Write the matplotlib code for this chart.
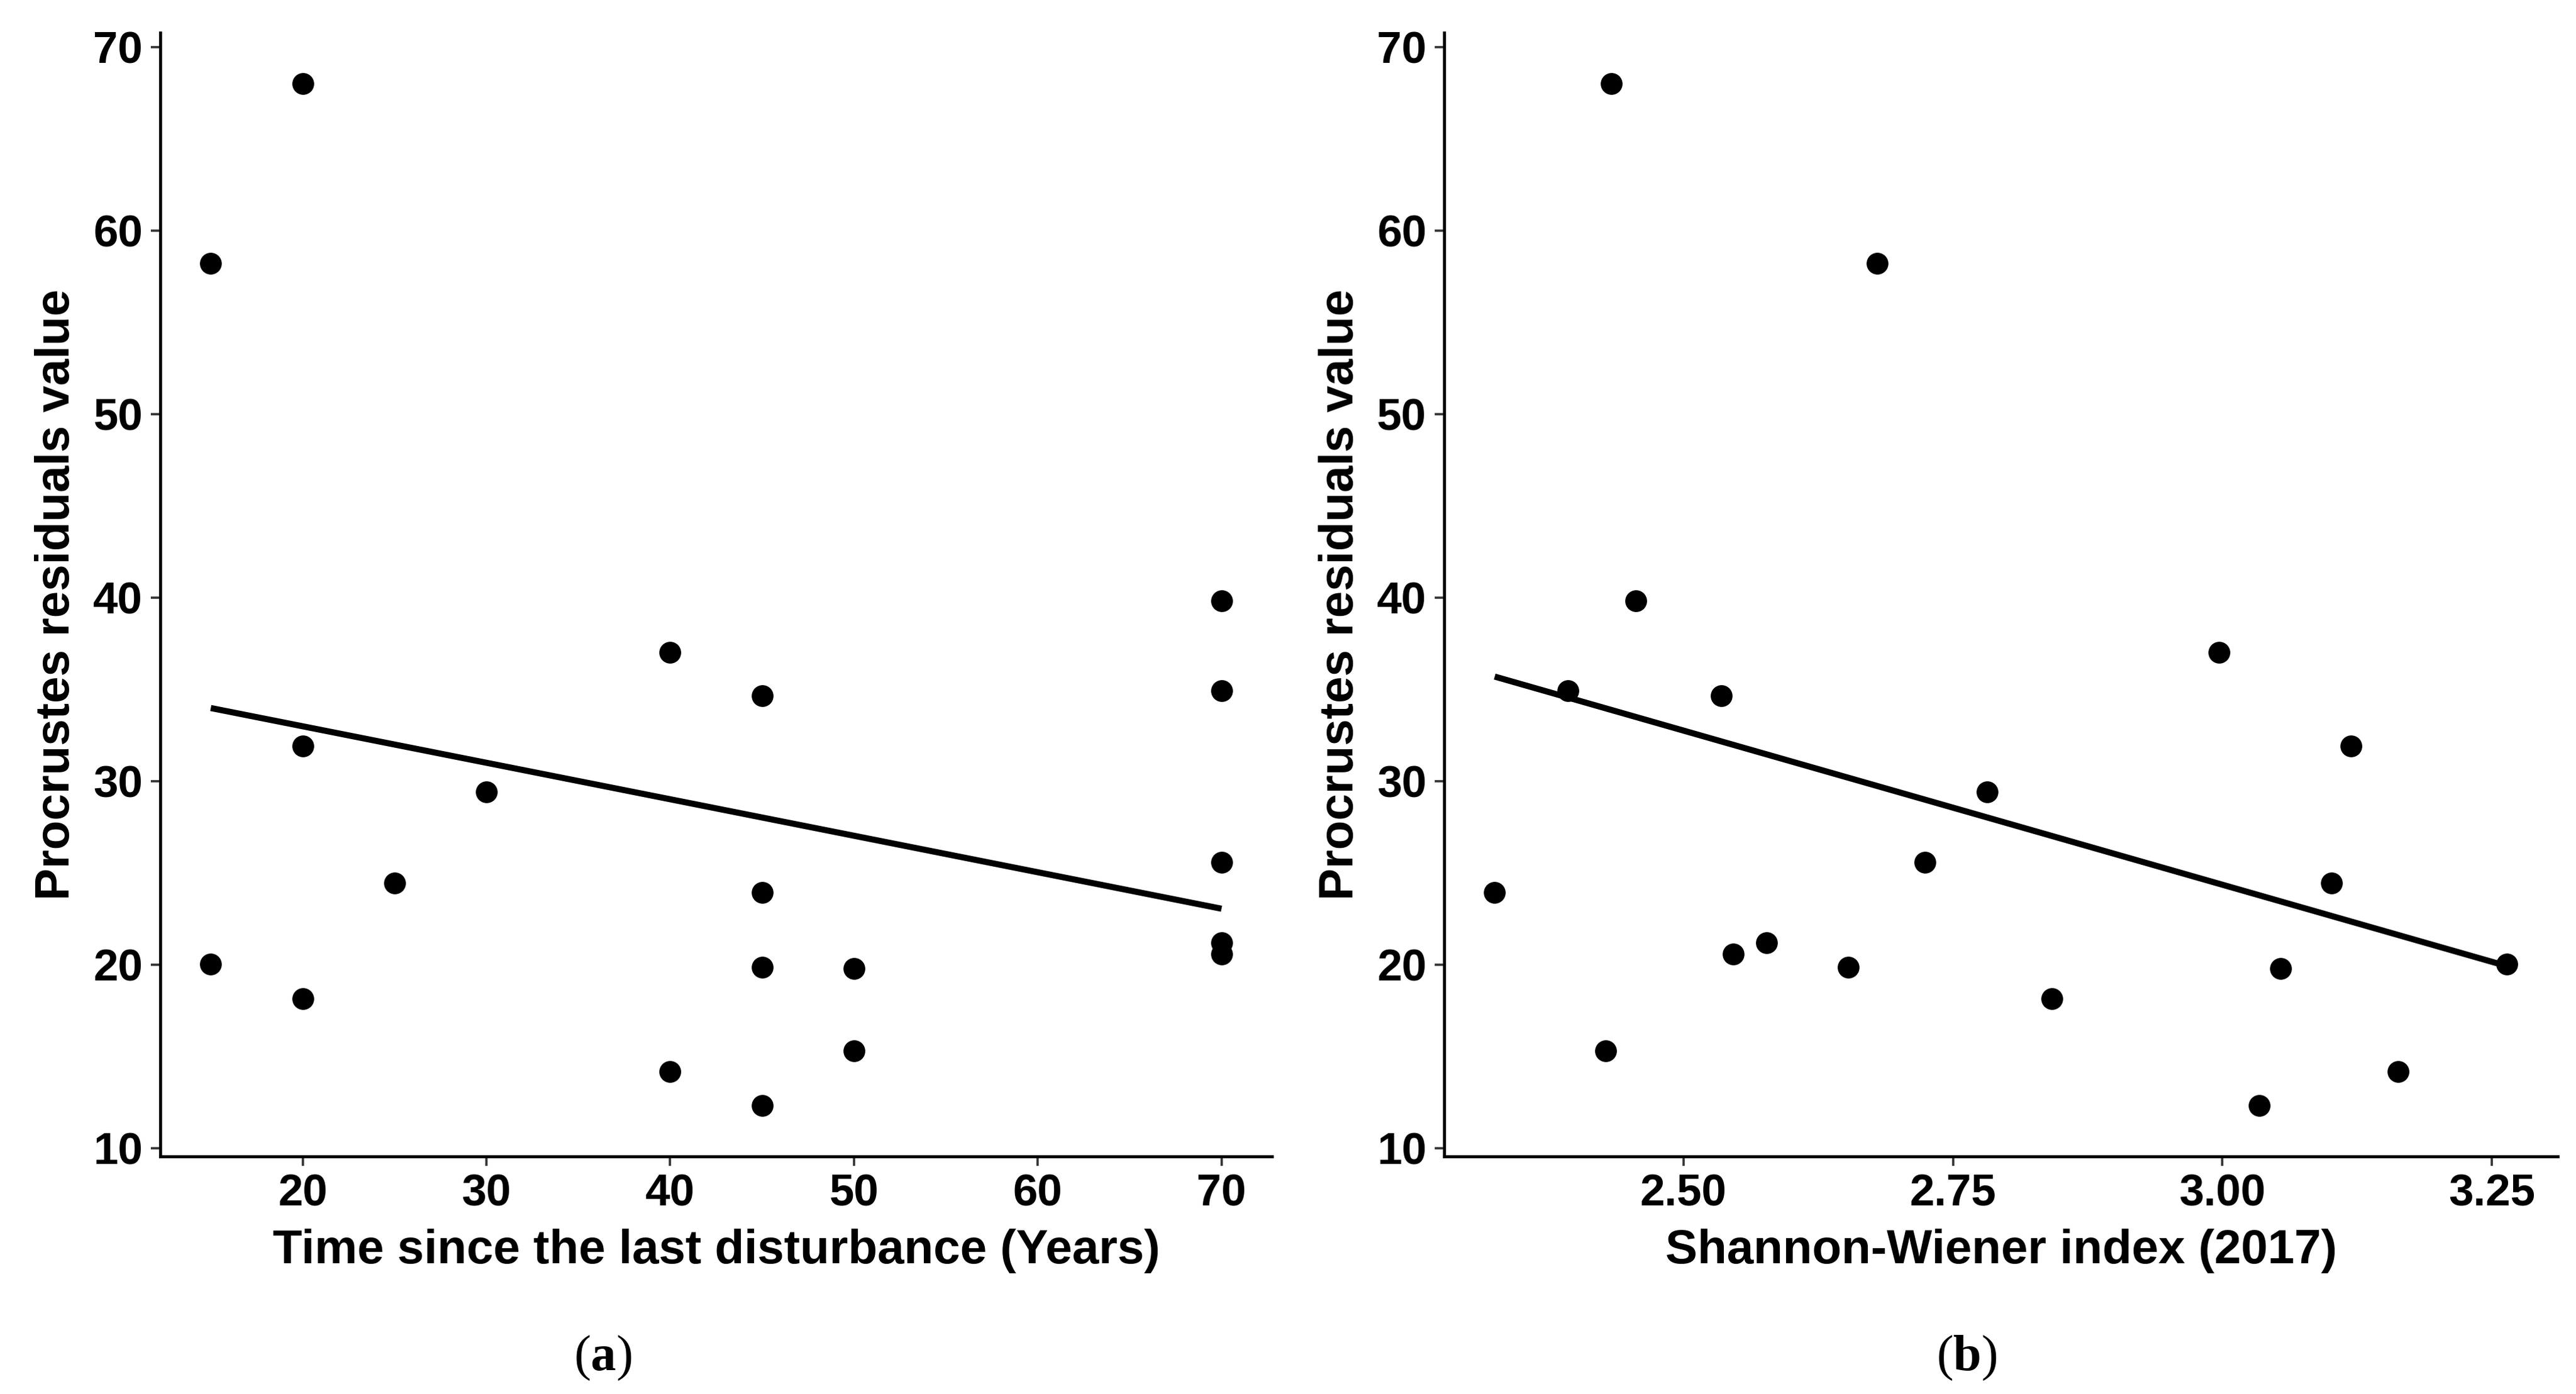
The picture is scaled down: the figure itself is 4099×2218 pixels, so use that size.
import numpy as np
import matplotlib
matplotlib.use("Agg")
import matplotlib.pyplot as plt

plt.rcParams["font.family"] = ["Liberation Sans", "DejaVu Sans"]
plt.rcParams["mathtext.fontset"] = "custom"
plt.rcParams["mathtext.bf"] = "Liberation Serif:bold"
plt.rcParams["mathtext.rm"] = "Liberation Serif"

# one entry per site
residuals = [58.2, 68.0, 20.05, 31.93, 18.16, 24.46, 29.41, 37.02, 14.18, 34.65,
             23.93, 19.85, 12.34, 19.8, 15.3, 39.84, 34.94, 25.58, 21.21, 20.58]
years = [15, 20, 15, 20, 20, 25, 30, 40, 40, 45,
         45, 45, 45, 50, 50, 70, 70, 70, 70, 70]
shannon = [2.680, 2.433, 3.264, 3.119, 2.842, 3.101, 2.782, 2.997, 3.163, 2.535,
           2.325, 2.653, 3.034, 3.054, 2.428, 2.456, 2.393, 2.724, 2.577, 2.546]

years_ticks = [20, 30, 40, 50, 60, 70]
shannon_ticks = [2.50, 2.75, 3.00, 3.25]
shannon_ticklabels = ["2.50", "2.75", "3.00", "3.25"]
resid_ticks = [10, 20, 30, 40, 50, 60, 70]

ylab = "Procrustes residuals value"
xlab_a = "Time since the last disturbance (Years)"
xlab_b = "Shannon-Wiener index (2017)"


def expand(v, frac=0.05):
    lo, hi = min(v), max(v)
    d = (hi - lo) * frac
    return lo - d, hi + d


def panel(ax, x, y, xticks, xticklabels, xlabel):
    ax.plot(x, y, "o", color="black", ms=25, mec="none", zorder=3)
    k, b = np.polyfit(x, y, 1)
    xs = np.array([min(x), max(x)])
    ax.plot(xs, k * xs + b, color="black", lw=7, solid_capstyle="butt", zorder=2)
    ax.set_xlim(*expand(x))
    ax.set_ylim(*expand(y))
    ax.set_xticks(xticks)
    ax.set_xticklabels(xticklabels)
    ax.set_yticks(resid_ticks)
    for s in ["top", "right"]:
        ax.spines[s].set_visible(False)
    for s in ["left", "bottom"]:
        ax.spines[s].set_linewidth(3.4)
    ax.tick_params(length=11, width=2.6, color="#333333", pad=9, labelsize=51)
    for lab in ax.get_xticklabels() + ax.get_yticklabels():
        lab.set_fontweight("bold")
    ax.set_xlabel(xlabel, fontsize=55, fontweight="bold", labelpad=15)
    ax.set_ylabel(ylab, fontsize=55, fontweight="bold", labelpad=16)


fig = plt.figure(figsize=(40.99, 22.18), dpi=100)
ax1 = fig.add_axes([0.0622, 0.1704, 0.4316, 0.8062])
ax2 = fig.add_axes([0.5606, 0.1704, 0.4323, 0.8062])

panel(ax1, years, residuals, years_ticks, [str(t) for t in years_ticks], xlab_a)
panel(ax2, shannon, residuals, shannon_ticks, shannon_ticklabels, xlab_b)

fig.text(0.234, 0.026, r"($\mathbf{a}$)", fontsize=58, family="Liberation Serif",
         ha="center", va="center")
fig.text(0.7634, 0.026, r"($\mathbf{b}$)", fontsize=58, family="Liberation Serif",
         ha="center", va="center")

fig.savefig("out.png", dpi=100, facecolor="white")
